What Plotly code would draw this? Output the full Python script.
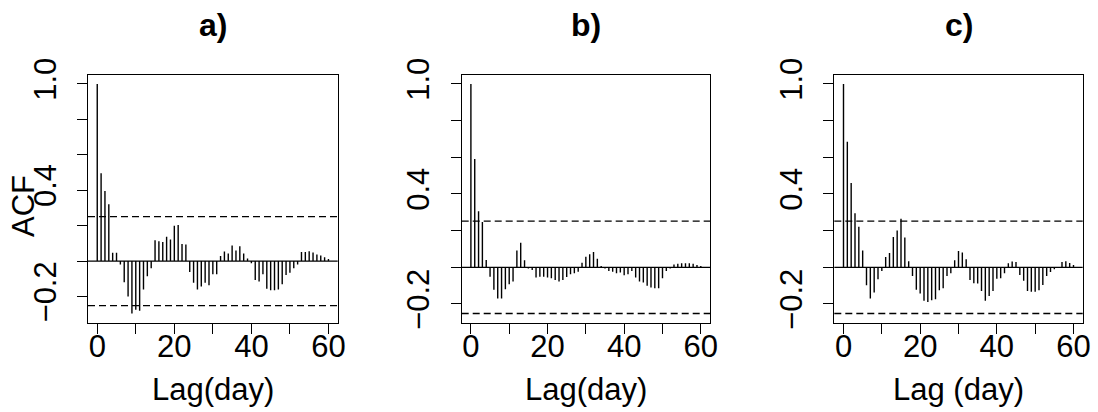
import plotly.graph_objects as go

# ---------------- data ----------------
lags = list(range(61))

acf_a = [1.0, 0.495, 0.395, 0.32, 0.047, 0.047, -0.02, -0.12, -0.2, -0.296,
         -0.275, -0.28, -0.16, -0.085, -0.04, 0.118, 0.112, 0.107, 0.137, 0.122,
         0.2, 0.204, 0.096, 0.094, -0.062, -0.122, -0.16, -0.144, -0.122, -0.137,
         -0.075, -0.075, 0.028, 0.054, 0.043, 0.088, 0.06, 0.084, 0.043, 0.015,
         -0.013, -0.107, -0.116, -0.075, -0.156, -0.165, -0.165, -0.16, -0.131, -0.079,
         -0.066, -0.041, -0.019, 0.051, 0.051, 0.056, 0.049, 0.037, 0.032, 0.021, 0.011]

acf_b = [1.0, 0.591, 0.306, 0.247, 0.04, -0.051, -0.123, -0.17, -0.17, -0.12,
         -0.092, -0.078, 0.092, 0.134, 0.038, -0.007, -0.015, -0.056, -0.051, -0.051,
         -0.056, -0.06, -0.069, -0.078, -0.069, -0.053, -0.038, -0.033, -0.024, 0.025,
         0.058, 0.071, 0.083, 0.047, 0.007, -0.007, -0.02, -0.024, -0.033, -0.029,
         -0.043, -0.038, -0.02, -0.056, -0.078, -0.083, -0.1, -0.11, -0.114, -0.114,
         -0.06, -0.02, -0.007, 0.015, 0.02, 0.022, 0.022, 0.022, 0.02, 0.013, 0.007]

acf_c = [1.0, 0.685, 0.46, 0.294, 0.221, 0.092, -0.098, -0.17, -0.138, -0.065,
         -0.02, 0.056, 0.078, 0.165, 0.2, 0.265, 0.163, 0.033, -0.047, -0.123,
         -0.143, -0.183, -0.189, -0.179, -0.174, -0.125, -0.114, -0.047, -0.033, 0.038,
         0.089, 0.08, 0.044, -0.069, -0.087, -0.089, -0.129, -0.183, -0.156, -0.129,
         -0.062, -0.06, -0.033, 0.022, 0.031, 0.029, -0.042, -0.074, -0.129, -0.134,
         -0.134, -0.125, -0.096, -0.047, -0.025, -0.011, -0.002, 0.029, 0.033, 0.024, 0.013]

conf_limits = [0.251, 0.252, 0.252]
panel_titles = ["a)", "b)", "c)"]
x_titles = ["Lag(day)", "Lag(day)", "Lag (day)"]
y_title = "ACF"

x_tickvals = [0, 10, 20, 30, 40, 50, 60]
x_ticktext = ["0", "", "20", "", "40", "", "60"]
y_tickvals = [-0.2, 0.0, 0.2, 0.4, 0.6, 0.8, 1.0]
y_ticktext = ["\u22120.2", "", "", "0.4", "", "", "1.0"]

series = [acf_a, acf_b, acf_c]

# ---------------- layout geometry (pixels) ----------------
W, H = 1098, 412
panel_px = [(88.0, 337.7), (461.7, 710.0), (834.3, 1082.7)]
top_px, bot_px = 74.7, 322.7
FONT = "Liberation Sans, Arial, Helvetica, sans-serif"

fig = go.Figure()
layout = dict(
    width=W, height=H,
    margin=dict(l=0, r=0, t=0, b=0, pad=0, autoexpand=False),
    paper_bgcolor="white", plot_bgcolor="white",
    showlegend=False,
    font=dict(family=FONT, color="black", size=31),
)
shapes = []
annotations = []

for i, (vals, clim) in enumerate(zip(series, conf_limits)):
    n = "" if i == 0 else str(i + 1)
    xa, ya = "x" + n, "y" + n
    xs, ys = [], []
    for lag, v in zip(lags, vals):
        xs += [lag, lag, None]
        ys += [0, v, None]
    fig.add_trace(go.Scatter(x=xs, y=ys, mode="lines", xaxis=xa, yaxis=ya,
                             line=dict(color="black", width=1.4),
                             hoverinfo="skip"))
    lo = min(min(vals), -clim)
    hi = max(max(vals), clim)
    pad = 0.04 * (hi - lo)
    xlo, xhi = min(lags), max(lags)
    xpad = 0.04 * (xhi - xlo)
    x0p, x1p = panel_px[i]
    common = dict(showline=True, mirror=True, linecolor="black", linewidth=1.2,
                  ticks="outside", ticklen=10, tickwidth=1.2, tickcolor="black",
                  showgrid=False, zeroline=False, automargin=False,
                  tickfont=dict(family=FONT, size=31, color="black"))
    layout["xaxis" + n] = dict(common, domain=[x0p / W, x1p / W],
                               range=[xlo - xpad, xhi + xpad], anchor=ya,
                               tickmode="array", tickvals=x_tickvals,
                               ticktext=x_ticktext, ticklabelstandoff=-14)
    layout["yaxis" + n] = dict(common, domain=[1 - bot_px / H, 1 - top_px / H],
                               range=[lo - pad, hi + pad], anchor=xa,
                               tickmode="array", tickvals=y_tickvals,
                               ticktext=y_ticktext, tickangle=-90,
                               ticklabelstandoff=9)
    # zero line and confidence limits
    shapes.append(dict(type="line", xref=xa + " domain", yref=ya,
                       x0=0, x1=1, y0=0, y1=0,
                       line=dict(color="black", width=1.3)))
    for c in (clim, -clim):
        shapes.append(dict(type="line", xref=xa + " domain", yref=ya,
                           x0=0, x1=1, y0=c, y1=c,
                           line=dict(color="black", width=1.3, dash="7px,4px")))
    cx = (x0p + x1p) / 2 / W
    annotations.append(dict(text="<b>" + panel_titles[i] + "</b>", x=cx,
                            y=1 - 25 / H, xref="paper", yref="paper",
                            showarrow=False, xanchor="center", yanchor="middle",
                            font=dict(family=FONT, size=32, color="black")))
    annotations.append(dict(text=x_titles[i], x=cx, y=1 - 389 / H,
                            xref="paper", yref="paper", showarrow=False,
                            xanchor="center", yanchor="middle",
                            font=dict(family=FONT, size=31, color="black")))

annotations.append(dict(text=y_title, x=23 / W, y=1 - 206 / H, xref="paper",
                        yref="paper", showarrow=False, textangle=-90,
                        xanchor="center", yanchor="middle",
                        font=dict(family=FONT, size=31, color="black")))

layout["shapes"] = shapes
layout["annotations"] = annotations
fig.update_layout(**layout)
fig.write_html("out.html",
               config={"displayModeBar": False},
               post_script="document.body.style.margin='0';"
                           "document.body.style.overflow='hidden';")
